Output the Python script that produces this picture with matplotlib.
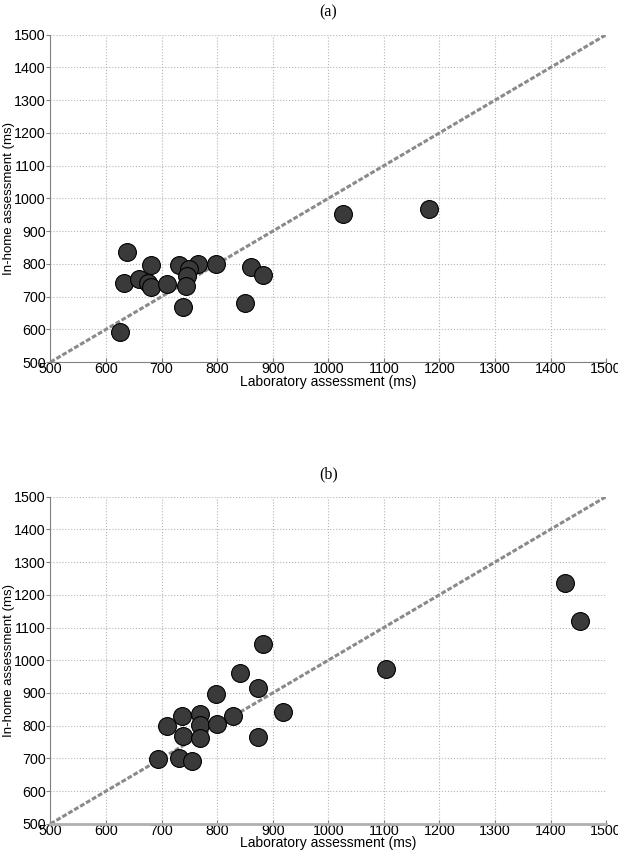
"""
Laboratory vs in-home assessment (ms), two panels with identity line.
"""
import matplotlib.pyplot as plt

# panel (a)
lab_a = [637, 681, 632, 660, 675, 681, 710, 731, 765, 749, 746, 744,
         798, 738, 861, 882, 851, 625, 1027, 1181]
home_a = [836, 797, 743, 753, 743, 729, 739, 797, 799, 784, 763, 733,
          799, 668, 789, 766, 682, 591, 953, 967]

# panel (b)
lab_b = [883, 841, 873, 798, 769, 737, 829, 918, 710, 769, 799, 739,
         769, 873, 693, 732, 754, 1103, 1426, 1453]
home_b = [1049, 960, 914, 897, 835, 830, 830, 843, 799, 802, 805, 768,
          761, 765, 697, 700, 693, 973, 1235, 1120]

ticks = list(range(500, 1501, 100))
titles = ["(a)", "(b)"]

fig = plt.figure(figsize=(6.18, 8.56), dpi=100)
ax_a = fig.add_axes([0.0817, 0.577, 0.899, 0.3824])
ax_b = fig.add_axes([0.0817, 0.0376, 0.899, 0.3822])

for ax, x, y, title in [(ax_a, lab_a, home_a, titles[0]),
                        (ax_b, lab_b, home_b, titles[1])]:
    ax.plot([500, 1500], [500, 1500], color="#8a8a8a", lw=2.2,
            dashes=(1.6, 0.65), zorder=2, solid_capstyle="butt")
    ax.scatter(x, y, s=165, facecolor="#3a3a3a", edgecolor="black",
               linewidth=0.8, zorder=3)
    ax.set_xlim(500, 1500)
    ax.set_ylim(500, 1500)
    ax.set_xticks(ticks)
    ax.set_yticks(ticks)
    ax.grid(True, color="#b5b5b5", linestyle=":", linewidth=0.8)
    ax.set_axisbelow(True)
    for s in ["top", "right"]:
        ax.spines[s].set_visible(False)
    ax.spines["left"].set_color("#808080")
    ax.spines["bottom"].set_color("#808080")
    ax.tick_params(axis="x", direction="in", length=3, color="#808080",
                   labelsize=10.3, pad=0)
    ax.tick_params(axis="y", direction="out", length=3, color="#808080",
                   labelsize=10.3, pad=0.5)
    for lbl in ax.get_xticklabels() + ax.get_yticklabels():
        lbl.set_family("Liberation Sans")
    ax.set_xlabel("Laboratory assessment (ms)", fontsize=10,
                  family="Liberation Sans", labelpad=-1)
    ax.set_ylabel("In-home assessment (ms)", fontsize=9.5,
                  family="Liberation Sans")
    ax.yaxis.set_label_coords(-0.064, 0.5)
    ax.set_title(title, fontsize=11.5, family="Liberation Serif", pad=13)

ax_b.spines["bottom"].set_color("#b0b0b0")
ax_b.spines["bottom"].set_linewidth(2)

fig.savefig("out.png", dpi=100)
